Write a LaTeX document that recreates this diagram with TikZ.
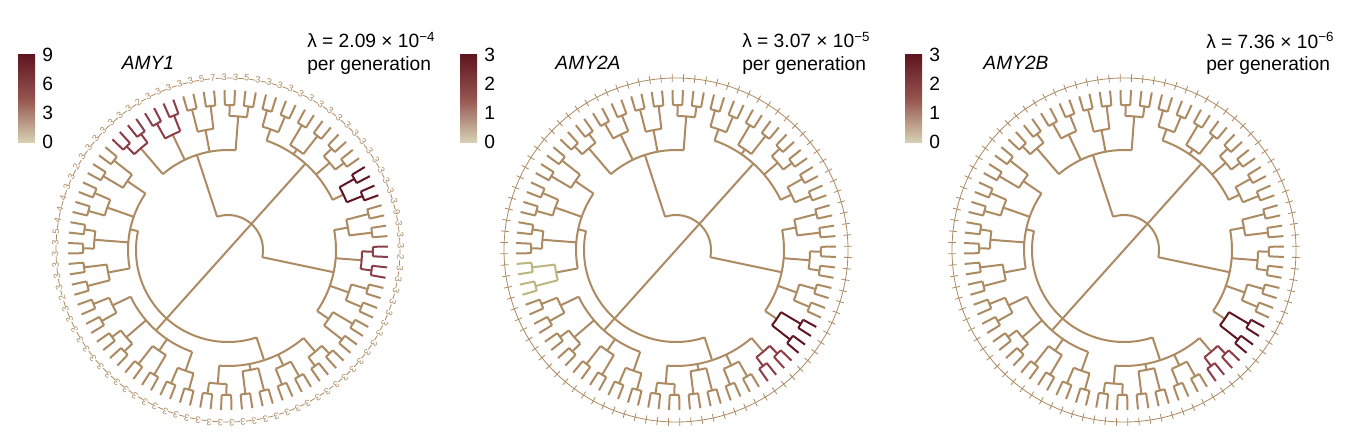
\documentclass[tikz,border=0pt]{standalone}
\usepackage{fontspec}
\setmainfont{Liberation Sans}
\usetikzlibrary{positioning}
\definecolor{tan}{RGB}{172,138,98}
\definecolor{hotred}{RGB}{140,62,72}
\definecolor{darkred}{RGB}{95,22,32}
\definecolor{pale}{RGB}{190,182,130}

\tikzset{
  branch/.style={line width=1.5pt},
  ring/.style={draw=tan, line width=0.6pt},
  lbl/.style={font=\fontsize{14.4}{16}\selectfont, inner sep=0pt},
  tiplbl/.style={font=\fontsize{7}{7}\selectfont, fill=white, inner sep=0.1pt, text=tan}
}

% one circular tree; #1,#2 centre, #3 = 1 for digit labels, #4 hot groups
\newcommand\drawtree[4]{%
\begin{scope}[shift={(#1,#2)}]
  \def\rot{140}
  \draw[ring] (0,0) circle[radius=172];
  \foreach \a/\ra in {0/92,1/35}{
    \pgfmathsetmacro\ca{(48*\a+23.5)*3.75+\rot}
    \pgfmathsetmacro\sa{(48*\a+7.5)*3.75+\rot}
    \pgfmathsetmacro\ea{(48*\a+39.5)*3.75+\rot}
    \draw[branch, tan] (0,0) -- (\ca:\ra);
    \draw[branch, tan] (\sa:\ra) arc[start angle=\sa, end angle=\ea, radius=\ra];
    \foreach \b in {0,1,2}{
      \pgfmathsetmacro\cb{(48*\a+16*\b+7.5)*3.75+\rot}
      \pgfmathsetmacro\sb{(48*\a+16*\b+1.5)*3.75+\rot}
      \pgfmathsetmacro\eb{(48*\a+16*\b+13.5)*3.75+\rot}
      \pgfmathsetmacro\rb{100+8*mod(\a+\b,3)}
      \draw[branch, tan] (\cb:\ra) -- (\cb:\rb);
      \draw[branch, tan] (\sb:\rb) arc[start angle=\sb, end angle=\eb, radius=\rb];
      \foreach \c in {0,1,2,3}{
        \pgfmathtruncatemacro\k{12*\a+4*\b+\c}
        \xdef\col{tan}
        \foreach \h/\hc in {#4}{\ifnum\k=\h\relax\xdef\col{\hc}\fi}
        \pgfmathsetmacro\cc{(4*\k+1.5)*3.75+\rot}
        \pgfmathsetmacro\sc{(4*\k+0.5)*3.75+\rot}
        \pgfmathsetmacro\ec{(4*\k+2.5)*3.75+\rot}
        \pgfmathsetmacro\rc{122+6*mod(\b+\c,3)}
        \draw[branch, tan] (\cc:\rb) -- (\cc:\rc);
        \draw[branch, \col] (\sc:\rc) arc[start angle=\sc, end angle=\ec, radius=\rc];
        \foreach \d in {0,1}{
          \pgfmathsetmacro\pc{(4*\k+2*\d+0.5)*3.75+\rot}
          \pgfmathsetmacro\ta{(4*\k+2*\d)*3.75+\rot}
          \pgfmathsetmacro\tb{(4*\k+2*\d+1)*3.75+\rot}
          \draw[branch, \col] (\pc:\rc) -- (\pc:145);
          \draw[branch, \col] (\ta:145) arc[start angle=\ta, end angle=\tb, radius=145]
            (\ta:145) -- (\ta:160) (\tb:145) -- (\tb:160);
        }
      }
    }
  }
  % tip marks
  \foreach \i in {0,...,95}{
    \pgfmathsetmacro\t{\i*3.75+\rot}
    \ifnum#3=1
      \pgfmathtruncatemacro\v{{3,3,3,2,3,3,4,4,4,5,3,3,3,3,3,2,3,3,3,3,3,3,3,3,3,3,3,3,3,3,3,3,3,3,3,3,3,3,3,3,3,3,3,3,3,3,3,3,3,3,3,3,3,3,3,3,3,3,2,3,3,3,9,3,3,3,3,3,3,3,3,3,3,3,3,3,3,3,3,3,3,5,3,3,7,5,3,3,3,3,3,2,3,3,3,3}[\i]}
      \node[tiplbl, rotate=\t-90] (d\i) at (\t:173) {\v};
    \else
      \draw[ring] (\t:168) -- (\t:176);
    \fi
  }
\end{scope}}

\newcommand\colbar[5]{%
  \shade[top color=darkred, bottom color=pale!60!white, middle color=hotred!70!tan]
    (#1,300) rectangle ++(17,88);
  \node[lbl, anchor=west] (#5a) at (#1+24,388) {#2};
  \node[lbl, anchor=west] (#5b) at (#1+24,359) {#3};
  \node[lbl, anchor=west] (#5c) at (#1+24,330) {#4};
  \node[lbl, anchor=west] (#5d) at (#1+24,301) {0};
}

\begin{document}
\begin{tikzpicture}[x=0.75pt, y=0.75pt]
  \useasboundingbox (0,0) rectangle (1347,443);
  % panel 1
  \colbar{18}{9}{6}{3}{cba}
  \node[lbl, font=\fontsize{14.4}{16}\selectfont\itshape] (ta) at (148,380) {AMY1};
  \node[lbl, anchor=west] (la) at (307,403) {λ = 2.09 × 10\textsuperscript{−4}};
  \node[lbl, anchor=west] (pa) at (307,377) {per generation};
  \drawtree{228}{193}{1}{22/hotred,23/hotred,16/darkred,14/hotred}
  % panel 2
  \colbar{460}{3}{2}{1}{cbb}
  \node[lbl, font=\fontsize{14.4}{16}\selectfont\itshape] (tb) at (588,380) {AMY2A};
  \node[lbl, anchor=west] (lb) at (742,403) {λ = 3.07 × 10\textsuperscript{−5}};
  \node[lbl, anchor=west] (pb) at (742,377) {per generation};
  \drawtree{676}{193}{0}{11/hotred,12/darkred,3/pale}
  % panel 3
  \colbar{905}{3}{2}{1}{cbc}
  \node[lbl, font=\fontsize{14.4}{16}\selectfont\itshape] (tc) at (1016,380) {AMY2B};
  \node[lbl, anchor=west] (lc) at (1206,403) {λ = 7.36 × 10\textsuperscript{−6}};
  \node[lbl, anchor=west] (pc) at (1206,377) {per generation};
  \drawtree{1124}{193}{0}{11/hotred,12/darkred}
\end{tikzpicture}
\end{document}
